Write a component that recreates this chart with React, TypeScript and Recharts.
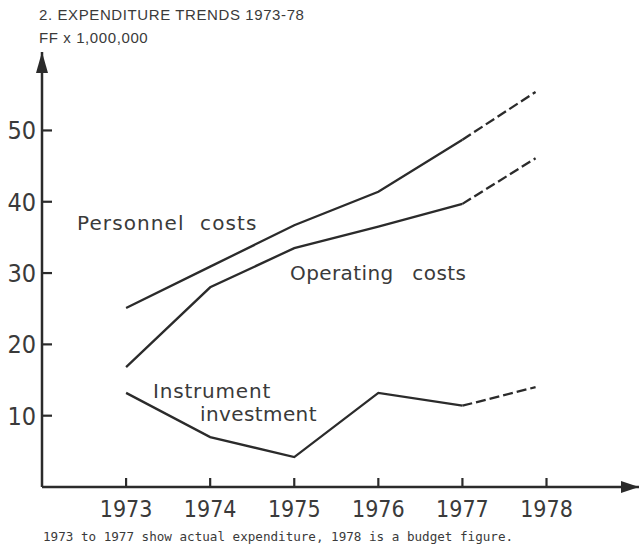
import { LineChart, Line, XAxis, YAxis, ReferenceDot } from "recharts";

// Years with actual expenditure, and the 1978 budget figure
const years = [1973, 1974, 1975, 1976, 1977];
// the budget segment stops a little short of the 1978 tick in the source drawing
const budgetX = 1977.87;

// FF x 1,000,000
const personnelActual = [25.1, 30.9, 36.7, 41.4, 48.7];
const personnelBudget = 55.4;
const operatingActual = [16.8, 28.0, 33.5, 36.5, 39.7];
const operatingBudget = 46.1;
const instrumentActual = [13.2, 7.0, 4.2, 13.2, 11.4];
const instrumentBudget = 14.0;

const xTicks = [1973, 1974, 1975, 1976, 1977, 1978];
const yTicks = [10, 20, 30, 40, 50];

const INK = "#2b2b2b";
const TEXT = "#3a3a3a";
const NARROW = '"Liberation Sans Narrow", "DejaVu Sans Condensed", sans-serif';
const LABEL_FONT = '"DejaVu Sans", sans-serif';

const last = years.length - 1;
const data = [
  ...years.map((year, i) => ({
    year,
    personnel: personnelActual[i],
    operating: operatingActual[i],
    instrument: instrumentActual[i],
    personnelB: i === last ? personnelActual[i] : undefined,
    operatingB: i === last ? operatingActual[i] : undefined,
    instrumentB: i === last ? instrumentActual[i] : undefined,
  })),
  {
    year: budgetX,
    personnelB: personnelBudget,
    operatingB: operatingBudget,
    instrumentB: instrumentBudget,
  },
];

function YTick(props: any) {
  const { x, y, payload } = props;
  return (
    <g>
      <line x1={x + 6} y1={y} x2={x + 16} y2={y} stroke={INK} strokeWidth={2.2} />
      <text
        x={x}
        y={y + 9}
        textAnchor="end"
        fontFamily={NARROW}
        fontSize={25}
        fill={TEXT}
      >
        {payload.value}
      </text>
    </g>
  );
}

function XTick(props: any) {
  const { x, y, payload } = props;
  return (
    <g>
      <line x1={x} y1={y} x2={x} y2={y - 9} stroke={INK} strokeWidth={2.2} />
      <text
        x={x}
        y={y + 30}
        textAnchor="middle"
        fontFamily={NARROW}
        fontSize={23}
        fill={TEXT}
      >
        {payload.value}
      </text>
    </g>
  );
}

const upArrow = (p: any) => (
  <path d={`M${p.cx},${p.cy} L${p.cx - 6},${p.cy + 21} L${p.cx + 6},${p.cy + 21} Z`} fill={INK} />
);
const rightArrow = (p: any) => (
  <path d={`M${p.cx},${p.cy} L${p.cx - 18},${p.cy - 6} L${p.cx - 18},${p.cy + 6} Z`} fill={INK} />
);

export default function App() {
  return (
    <div style={{ position: "absolute", left: 0, top: 0, width: 639, height: 548, background: "#fff" }}>
      <LineChart
        width={639}
        height={548}
        data={data}
        margin={{ top: 52, right: 0, left: 0, bottom: 31 }}
      >
        <XAxis
          dataKey="year"
          type="number"
          domain={[1972, 1979.1]}
          ticks={xTicks}
          interval={0}
          allowDataOverflow
          height={30}
          tickSize={0}
          tickMargin={0}
          tickLine={false}
          axisLine={{ stroke: INK, strokeWidth: 2.5 }}
          tick={<XTick />}
        />
        <YAxis
          type="number"
          domain={[0, 61]}
          ticks={yTicks}
          interval={0}
          allowDataOverflow
          width={42}
          tickSize={0}
          tickMargin={6}
          tickLine={false}
          axisLine={{ stroke: INK, strokeWidth: 2.5 }}
          tick={<YTick />}
        />
        <Line dataKey="personnel" stroke={INK} strokeWidth={2.3} dot={false} isAnimationActive={false} />
        <Line dataKey="operating" stroke={INK} strokeWidth={2.3} dot={false} isAnimationActive={false} />
        <Line dataKey="instrument" stroke={INK} strokeWidth={2.3} dot={false} isAnimationActive={false} />
        <Line dataKey="personnelB" stroke={INK} strokeWidth={2.3} strokeDasharray="10 4" dot={false} isAnimationActive={false} />
        <Line dataKey="operatingB" stroke={INK} strokeWidth={2.3} strokeDasharray="10 4" dot={false} isAnimationActive={false} />
        <Line dataKey="instrumentB" stroke={INK} strokeWidth={2.3} strokeDasharray="10 4" dot={false} isAnimationActive={false} />
        <ReferenceDot x={1972} y={61} r={0} ifOverflow="visible" shape={upArrow} />
        <ReferenceDot x={1979.1} y={0} r={0} ifOverflow="visible" shape={rightArrow} />
      </LineChart>
      <svg
        width={639}
        height={548}
        style={{ position: "absolute", left: 0, top: 0, pointerEvents: "none" }}
      >
        <g fontFamily='"Liberation Sans", Arial, sans-serif' fontSize={15} fill={TEXT}>
          <text x={39} y={20} letterSpacing={0.6}>2. EXPENDITURE TRENDS 1973-78</text>
          <text x={39} y={43} letterSpacing={0.6}>FF x 1,000,000</text>
        </g>
        <g fontFamily={LABEL_FONT} fontSize={20} fill={TEXT} letterSpacing={0.4}>
          <text x={77} y={230} wordSpacing={8} letterSpacing={1.1}>Personnel costs</text>
          <text x={290} y={280} wordSpacing={12}>Operating costs</text>
          <text x={153} y={398} letterSpacing={0.8}>Instrument</text>
          <text x={200} y={421}>investment</text>
        </g>
        <text
          x={43}
          y={541}
          fontFamily='"DejaVu Sans Mono", monospace'
          fontSize={12.6}
          fill={TEXT}
        >
          1973 to 1977 show actual expenditure, 1978 is a budget figure.
        </text>
      </svg>
    </div>
  );
}
